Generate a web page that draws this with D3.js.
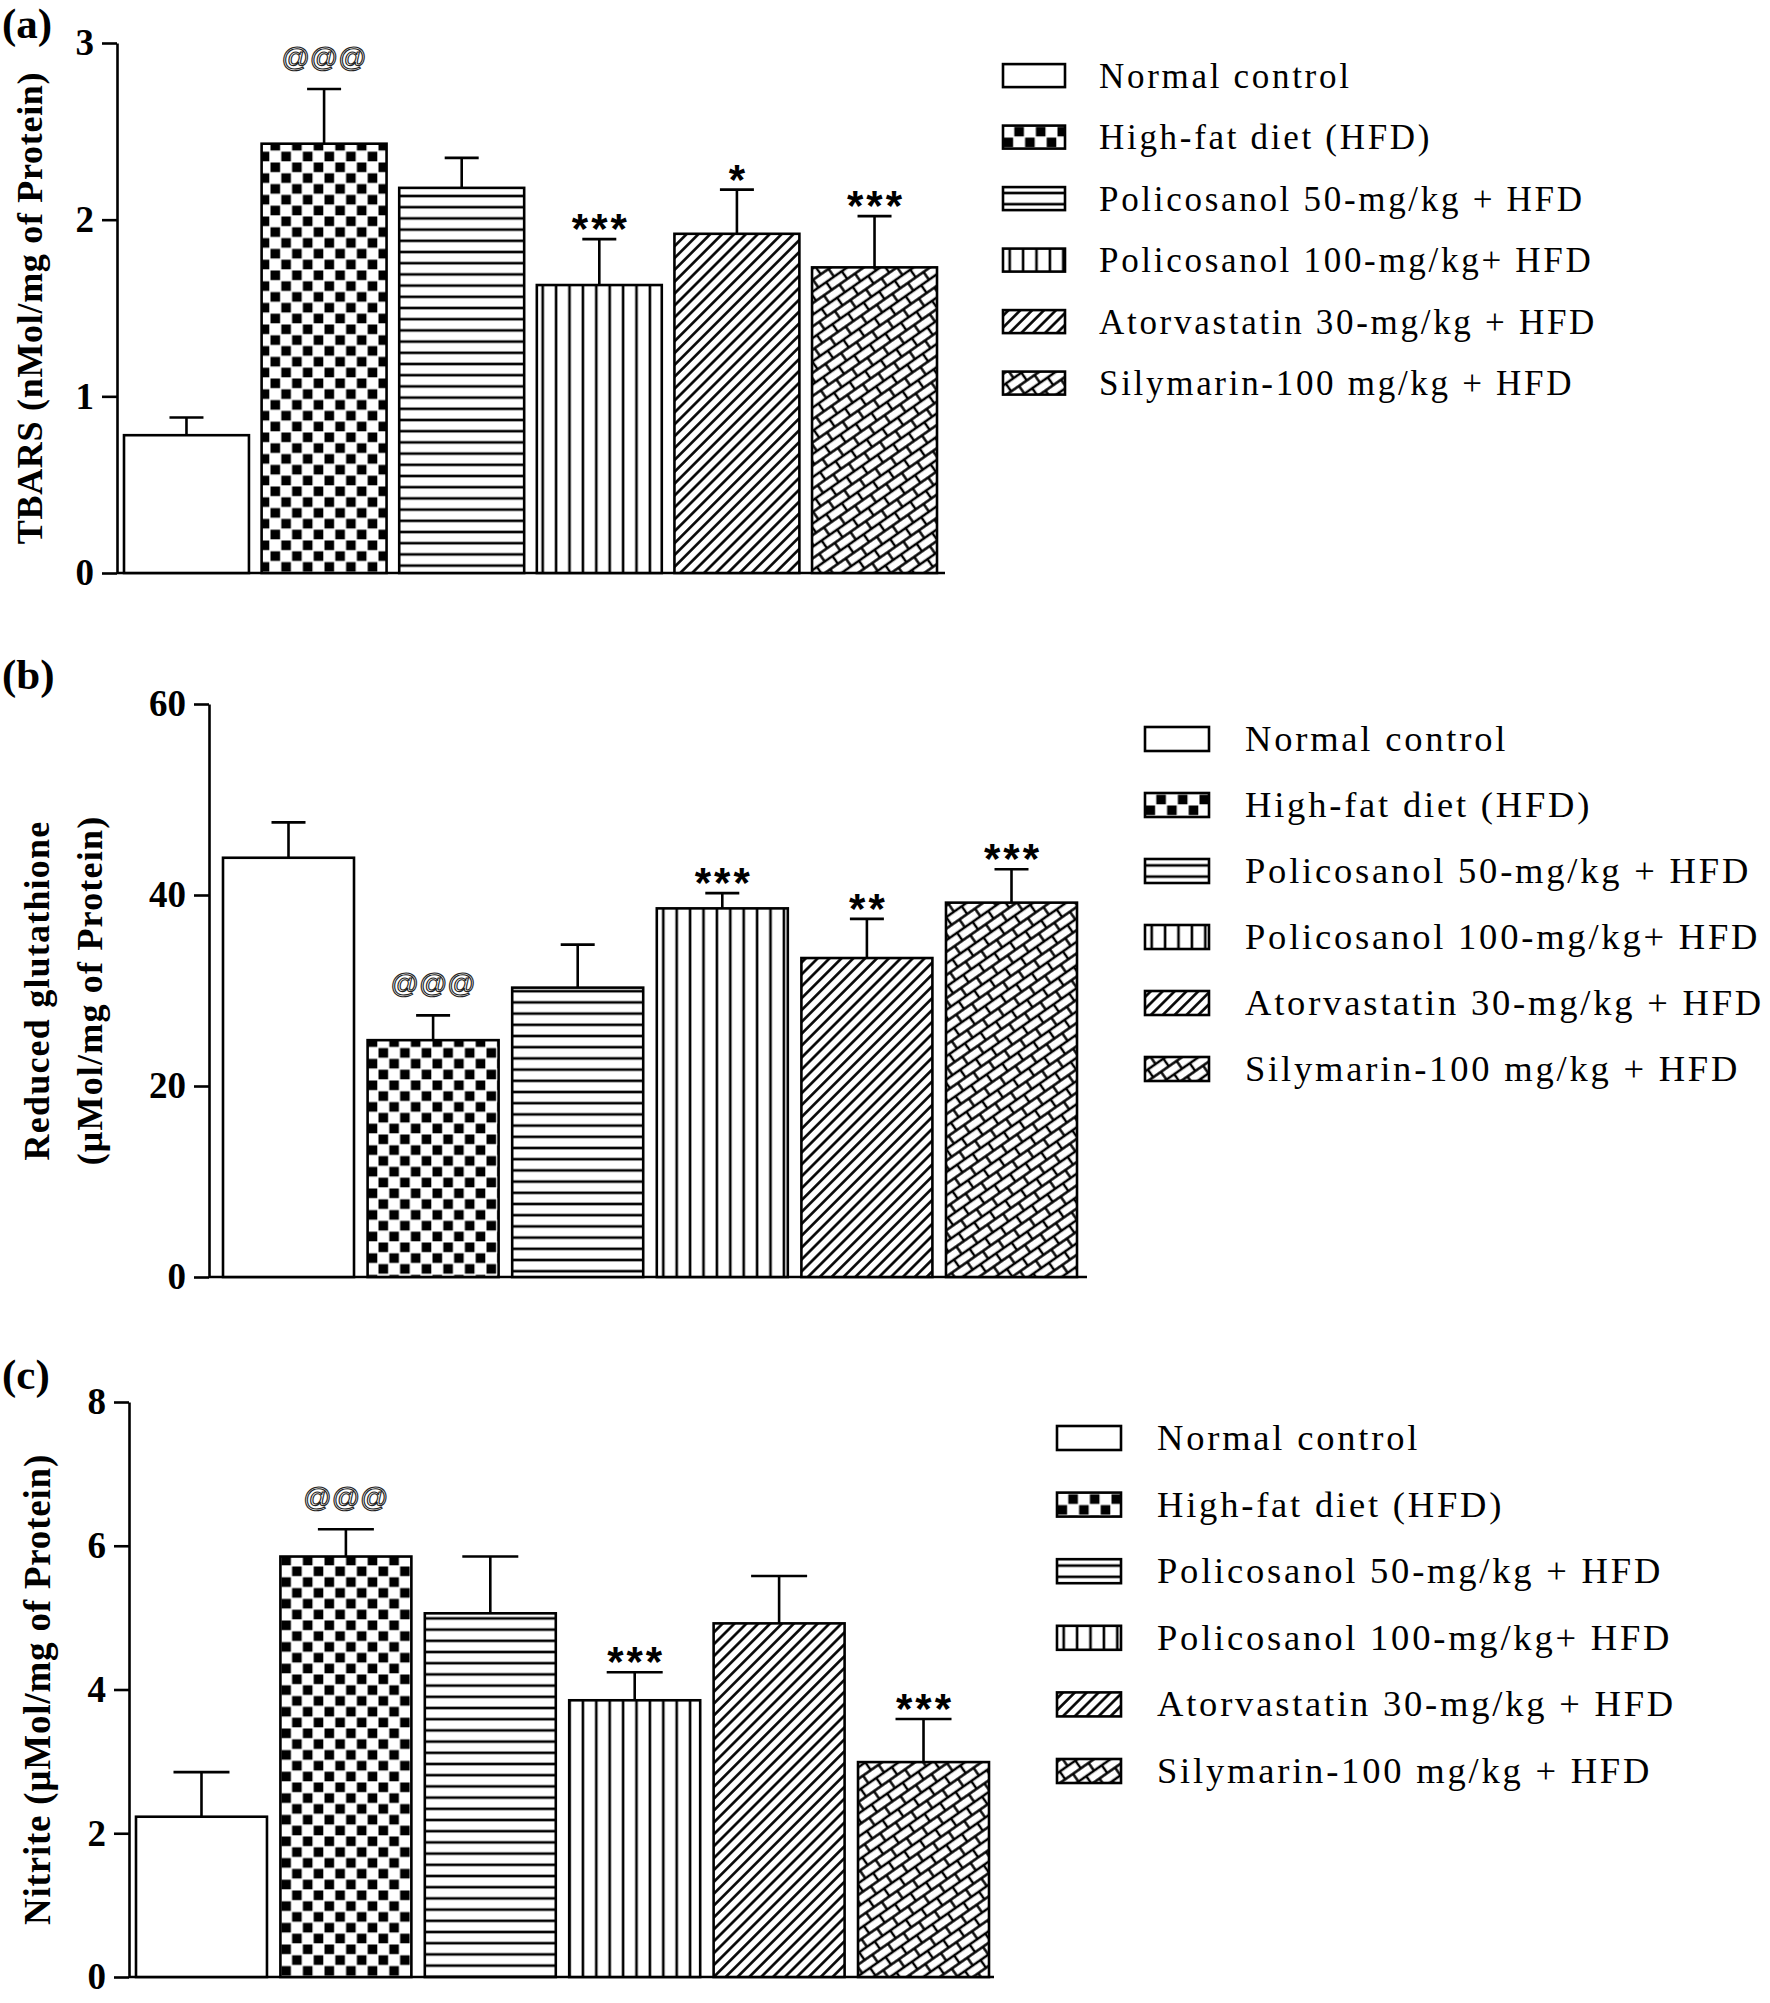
<!DOCTYPE html>
<html>
<head>
<meta charset="utf-8">
<script src="https://cdn.jsdelivr.net/npm/d3@7"></script>
<style>
    html, body { margin: 0; padding: 0; background: #fff; }
    svg { display: block; }
</style>
</head>
<body>
<svg id="chart" width="1770" height="2003"></svg>
<script>
/* Three bar panels: TBARS, reduced glutathione, nitrite */

const groups = [
    'Normal control',
    'High-fat diet (HFD)',
    'Policosanol 50-mg/kg + HFD',
    'Policosanol 100-mg/kg+ HFD',
    'Atorvastatin 30-mg/kg + HFD',
    'Silymarin-100 mg/kg + HFD',
];

// (a) TBARS
const tbarsMean = [0.78, 2.43, 2.18, 1.63, 1.92, 1.73];
const tbarsSem = [0.10, 0.31, 0.17, 0.26, 0.25, 0.29];
const tbarsSig = ['', '@@@', '', '***', '*', '***'];
const tbarsTicks = [0, 1, 2, 3];

// (b) reduced glutathione
const gshMean = [43.9, 24.8, 30.3, 38.6, 33.4, 39.2];
const gshSem = [3.7, 2.6, 4.5, 1.6, 4.1, 3.5];
const gshSig = ['', '@@@', '', '***', '**', '***'];
const gshTicks = [0, 20, 40, 60];

// (c) nitrite
const nitriteMean = [2.23, 5.85, 5.06, 3.85, 4.92, 2.99];
const nitriteSem = [0.62, 0.38, 0.79, 0.39, 0.66, 0.60];
const nitriteSig = ['', '@@@', '', '***', '', '***'];
const nitriteTicks = [0, 2, 4, 6, 8];

const fills = ['#fff', 'url(#pat-check)', 'url(#pat-hline)', 'url(#pat-vline)', 'url(#pat-diag)', 'url(#pat-brick)'];
const LINE = 2.6;
const BOLD_SERIF = '"Liberation Serif", "Times New Roman", serif';
const LEGEND_SERIF = '"Liberation Serif", "Times New Roman", serif';
const SANS = '"Liberation Sans", Arial, sans-serif';

const svg = d3.select('#chart');
const defs = svg.append('defs');

function makePattern(id, size, transform) {
    const p = defs
        .append('pattern')
        .attr('id', id)
        .attr('patternUnits', 'userSpaceOnUse')
        .attr('width', size[0])
        .attr('height', size[1]);
    if (transform) p.attr('patternTransform', transform);
    p.append('rect').attr('width', size[0]).attr('height', size[1]).attr('fill', '#fff');
    return p;
}

function addPatterns() {
    const check = makePattern('pat-check', [21.6, 21.6]);
    check.append('rect').attr('x', 0.5).attr('y', 0.5).attr('width', 9.6).attr('height', 9.6).attr('fill', '#000');
    check.append('rect').attr('x', 11.3).attr('y', 11.3).attr('width', 9.6).attr('height', 9.6).attr('fill', '#000');

    makePattern('pat-hline', [20, 11.2])
        .append('line')
        .attr('x1', 0).attr('x2', 20).attr('y1', 5.6).attr('y2', 5.6)
        .attr('stroke', '#000').attr('stroke-width', LINE);

    makePattern('pat-vline', [13.4, 20])
        .append('line')
        .attr('x1', 6.7).attr('x2', 6.7).attr('y1', 0).attr('y2', 20)
        .attr('stroke', '#000').attr('stroke-width', LINE);

    makePattern('pat-diag', [8.4, 20], 'rotate(45)')
        .append('line')
        .attr('x1', 4.2).attr('x2', 4.2).attr('y1', 0).attr('y2', 20)
        .attr('stroke', '#000').attr('stroke-width', LINE);

    // brick weave, long side running up-right
    makePattern('pat-brick', [19, 19], 'rotate(-35)')
        .append('path')
        .attr('d', 'M0,2 H19 M0,11.5 H19 M2,2 V11.5 M11.5,11.5 V19 M11.5,0 V2')
        .attr('fill', 'none')
        .attr('stroke', '#000')
        .attr('stroke-width', 2.4);
}

function drawPanel(p) {
    const y = d3.scaleLinear().domain([0, p.max]).range([p.y0, p.yTop]);
    const x = d3.scaleBand().domain(groups).range([p.x0, p.x1]).paddingInner(p.pad).paddingOuter(0);
    const rows = groups.map((name, i) => ({ name, mean: p.mean[i], sem: p.sem[i], sig: p.sig[i], fill: fills[i] }));

    const g = svg.append('g');

    // panel tag
    g.append('text')
        .attr('x', 2)
        .attr('y', p.tagY)
        .attr('font-family', BOLD_SERIF)
        .attr('font-weight', 'bold')
        .attr('font-size', 43)
        .text(p.tag);

    // y axis
    const axis = g
        .append('g')
        .attr('transform', `translate(${p.axisX},0)`)
        .call(
            d3.axisLeft(y)
                .tickValues(p.ticks)
                .tickFormat(d3.format('d'))
                .tickSize(15)
                .tickPadding(8)
                .tickSizeOuter(0)
        );
    axis.select('.domain').attr('stroke-width', LINE);
    axis.selectAll('.tick line').attr('stroke-width', LINE);
    axis.selectAll('.tick text')
        .attr('font-family', BOLD_SERIF)
        .attr('font-weight', 'bold')
        .attr('font-size', p.tickFont)
        .attr('fill', '#000');

    // x axis line
    g.append('line')
        .attr('x1', p.axisX)
        .attr('x2', p.axisEnd)
        .attr('y1', p.y0)
        .attr('y2', p.y0)
        .attr('stroke', '#000')
        .attr('stroke-width', LINE);

    // axis title, one or two lines
    p.title.forEach((line, i) => {
        g.append('text')
            .attr('transform', `translate(${p.titleX[i]},${(p.y0 + p.yTop) / 2}) rotate(-90)`)
            .attr('text-anchor', 'middle')
            .attr('font-family', BOLD_SERIF)
            .attr('font-weight', 'bold')
            .attr('font-size', p.titleFont)
            .attr('letter-spacing', p.titleSpacing)
            .text(line);
    });

    // bars
    g.selectAll('.bar')
        .data(rows)
        .enter()
        .append('rect')
        .attr('class', 'bar')
        .attr('x', (d) => x(d.name))
        .attr('y', (d) => y(d.mean))
        .attr('width', x.bandwidth())
        .attr('height', (d) => p.y0 - y(d.mean))
        .attr('fill', (d) => d.fill)
        .attr('stroke', '#000')
        .attr('stroke-width', LINE);

    // upper error whiskers
    const err = g.selectAll('.err').data(rows).enter().append('g').attr('class', 'err');
    err.append('line')
        .attr('x1', (d) => x(d.name) + x.bandwidth() / 2)
        .attr('x2', (d) => x(d.name) + x.bandwidth() / 2)
        .attr('y1', (d) => y(d.mean))
        .attr('y2', (d) => y(d.mean + d.sem))
        .attr('stroke', '#000')
        .attr('stroke-width', LINE);
    err.append('line')
        .attr('x1', (d) => x(d.name) + x.bandwidth() / 2 - p.capW / 2)
        .attr('x2', (d) => x(d.name) + x.bandwidth() / 2 + p.capW / 2)
        .attr('y1', (d) => y(d.mean + d.sem))
        .attr('y2', (d) => y(d.mean + d.sem))
        .attr('stroke', '#000')
        .attr('stroke-width', LINE);

    // significance marks
    rows.filter((d) => d.sig).forEach((d) => {
        const cx = x(d.name) + x.bandwidth() / 2;
        const top = y(d.mean + d.sem);
        const t = g.append('text').attr('text-anchor', 'middle').attr('font-family', SANS).text(d.sig);
        if (d.sig.startsWith('@')) {
            t.attr('x', cx)
                .attr('y', top - 22)
                .attr('font-size', 28)
                .attr('fill', '#fff')
                .attr('stroke', '#222')
                .attr('stroke-width', 1.1);
        } else {
            t.attr('x', cx + 1.5)
                .attr('y', top + 4)
                .attr('font-size', 42)
                .attr('font-weight', 'bold')
                .attr('letter-spacing', 3)
                .attr('fill', '#000');
        }
    });

    // legend
    const leg = g.selectAll('.leg').data(rows).enter().append('g')
        .attr('class', 'leg')
        .attr('transform', (d, i) => `translate(${p.legX},${p.legY + i * p.legStep})`);
    leg.append('rect')
        .attr('x', 0)
        .attr('y', -p.swH / 2)
        .attr('width', p.swW)
        .attr('height', p.swH)
        .attr('fill', (d) => d.fill)
        .attr('stroke', '#000')
        .attr('stroke-width', LINE);
    leg.append('text')
        .attr('x', p.legTextDx)
        .attr('y', 12)
        .attr('font-family', LEGEND_SERIF)
        .attr('font-size', p.legFont)
        .attr('letter-spacing', p.legSpacing)
        .text((d) => d.name);
}

addPatterns();

drawPanel({
    tag: '(a)', tagY: 38,
    mean: tbarsMean, sem: tbarsSem, sig: tbarsSig, ticks: tbarsTicks, max: 3,
    title: ['TBARS (nMol/mg of Protein)'], titleX: [42], titleFont: 36, titleSpacing: 0.7,
    axisX: 117, y0: 573, yTop: 43, x0: 124, x1: 937, pad: 0.092, axisEnd: 945,
    tickFont: 37, capW: 34,
    legX: 1003, legY: 75.6, legStep: 61.5, swW: 62, swH: 23, legTextDx: 96, legFont: 35, legSpacing: 2.7,
});

drawPanel({
    tag: '(b)', tagY: 689,
    mean: gshMean, sem: gshSem, sig: gshSig, ticks: gshTicks, max: 60,
    title: ['Reduced glutathione', '(μMol/mg of Protein)'], titleX: [49, 102], titleFont: 36, titleSpacing: 1.2,
    axisX: 209, y0: 1277, yTop: 704, x0: 223, x1: 1077, pad: 0.094, axisEnd: 1087,
    tickFont: 37, capW: 34,
    legX: 1145, legY: 739, legStep: 66, swW: 64, swH: 24, legTextDx: 100, legFont: 36.5, legSpacing: 2.8,
});

drawPanel({
    tag: '(c)', tagY: 1389,
    mean: nitriteMean, sem: nitriteSem, sig: nitriteSig, ticks: nitriteTicks, max: 8,
    title: ['Nitrite (μMol/mg of Protein)'], titleX: [50], titleFont: 37, titleSpacing: 0.8,
    axisX: 129, y0: 1977, yTop: 1402, x0: 136, x1: 989, pad: 0.093, axisEnd: 994,
    tickFont: 37, capW: 56,
    legX: 1057, legY: 1438, legStep: 66.6, swW: 64, swH: 24, legTextDx: 100, legFont: 36.5, legSpacing: 2.8,
});
</script>
</body>
</html>
